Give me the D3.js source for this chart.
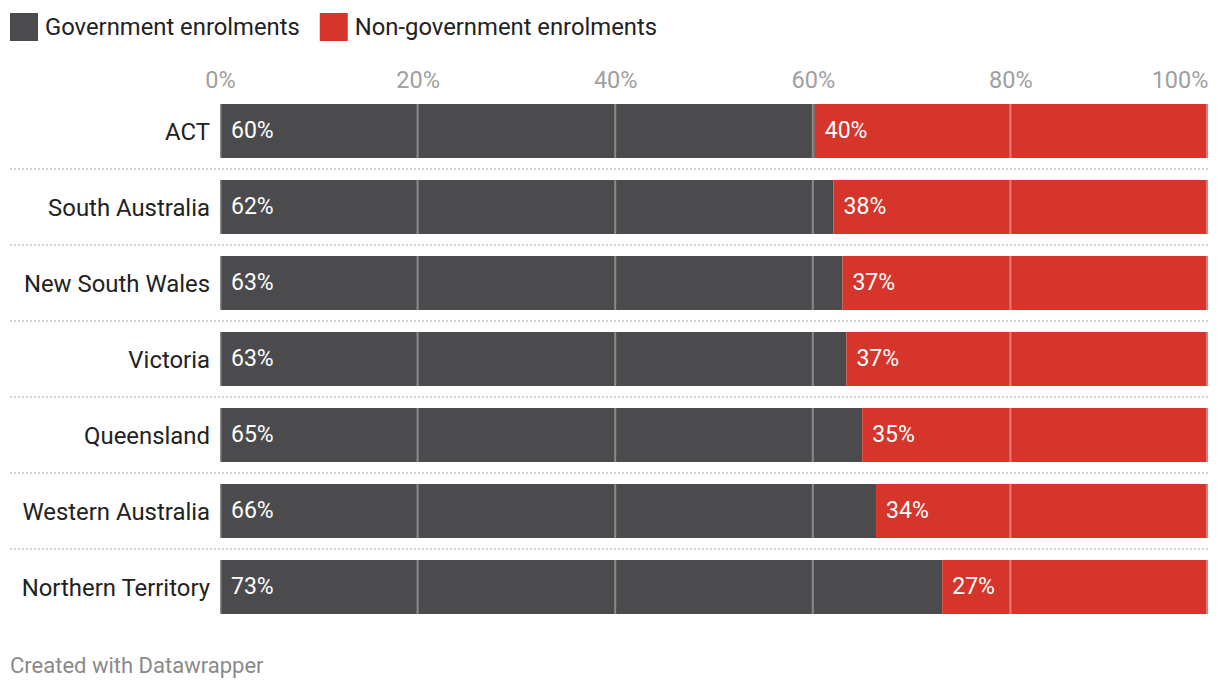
<!DOCTYPE html>
<html><head><meta charset="utf-8">
<script src="https://cdn.jsdelivr.net/npm/d3@7"></script>
<style>body{margin:0;background:#fff;font-family:Roboto,sans-serif}</style>
</head><body><svg id="c" width="1220" height="692"></svg>
<script>
const categories = ["ACT","South Australia","New South Wales","Victoria","Queensland","Western Australia","Northern Territory"];
const government = [60.2, 62.1, 63.0, 63.4, 65.0, 66.4, 73.1];
const nonGovernment = [39.8, 37.9, 37.0, 36.6, 35.0, 33.6, 26.9];
const ticks = [0, 20, 40, 60, 80, 100];
const seriesNames = ["Government enrolments", "Non-government enrolments"];
const colors = ["#4b4b4d", "#d6352b"];

const svg = d3.select("#c");
const x = d3.scaleLinear().domain([0,100]).range([220,1208]);
const y = d3.scaleBand().domain(categories).range([104, 614]).paddingInner(22/76).paddingOuter(0);
const bh = y.bandwidth();

// legend
const lg = svg.append("g");
let lx = 10;
seriesNames.forEach((n,i)=>{
  lg.append("rect").attr("x",lx).attr("y",13).attr("width",28).attr("height",28).attr("fill",colors[i]);
  const t = lg.append("text").attr("x",lx+35).attr("y",35).attr("font-size",23.8).attr("fill","#222").text(n);
  lx += 35 + t.node().getComputedTextLength() + 20;
});

// axis
const ax = svg.append("g").attr("transform","translate(0,88)")
  .call(d3.axisTop(x).tickValues(ticks).tickFormat(d=>d+"%").tickSize(0).tickPadding(0));
ax.select(".domain").remove();
ax.selectAll("text").attr("font-family","Roboto,sans-serif").attr("font-size",23.5).attr("fill","#a0a0a0")
  .attr("text-anchor",d=>d===100?"end":"middle");

// separators
categories.slice(1).forEach(c=>{
  svg.append("line").attr("x1",10).attr("x2",1208).attr("y1",y(c)-11).attr("y2",y(c)-11)
    .attr("stroke","#d0d0d0").attr("stroke-width",2).attr("stroke-dasharray","2,2");
});

// bars
const rows = svg.selectAll("g.row").data(categories).join("g").attr("class","row");
rows.append("rect").attr("x",x(0)).attr("y",d=>y(d)).attr("height",bh)
  .attr("width",(d,i)=>x(government[i])-x(0)).attr("fill",colors[0]);
rows.append("rect").attr("x",(d,i)=>x(government[i])).attr("y",d=>y(d)).attr("height",bh)
  .attr("width",(d,i)=>x(government[i]+nonGovernment[i])-x(government[i])).attr("fill",colors[1]);

// grid lines over bars
categories.forEach(c=>{
  ticks.forEach(t=>{
    const gx = x(t)+(t===100?-1:t===0?0.5:0);
    svg.append("line").attr("x1",gx).attr("x2",gx)
      .attr("y1",y(c)).attr("y2",y(c)+bh)
      .attr("stroke","#fff").attr("stroke-opacity",0.35).attr("stroke-width",2);
  });
});

// category labels
rows.append("text").attr("x",210).attr("y",d=>y(d)+bh/2+9).attr("text-anchor","end")
  .attr("font-size",23.9).attr("fill","#222").text(d=>d);

// value labels
rows.append("text").attr("x",x(0)+11).attr("y",d=>y(d)+bh/2+7).attr("font-size",23).attr("fill","#fff")
  .text((d,i)=>Math.round(government[i])+"%");
rows.append("text").attr("x",(d,i)=>x(government[i])+10).attr("y",d=>y(d)+bh/2+7).attr("font-size",23).attr("fill","#fff")
  .text((d,i)=>Math.round(nonGovernment[i])+"%");

// footer
svg.append("text").attr("x",10).attr("y",673).attr("font-size",22).attr("fill","#8a8a8a").text("Created with Datawrapper");
</script></body></html>
